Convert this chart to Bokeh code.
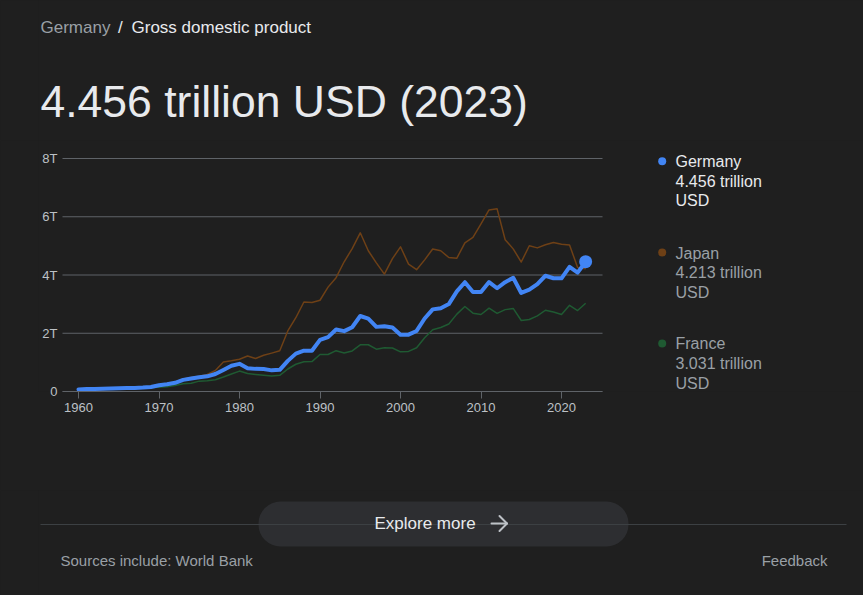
from bokeh.plotting import figure
from bokeh.layouts import column
from bokeh.models import Range1d, FixedTicker, CustomJSTickFormatter, BoxAnnotation, Label
from bokeh.core.properties import value
from bokeh.embed import file_html
from bokeh.resources import INLINE

# ---------------- data (trillion USD) ----------------
years = list(range(1960, 2024))
germany = [
    0.072, 0.083, 0.090, 0.096, 0.105, 0.114, 0.121, 0.124, 0.134, 0.156,
    0.215, 0.250, 0.300, 0.399, 0.445, 0.490, 0.520, 0.600, 0.741, 0.882,
    0.950, 0.800, 0.777, 0.770, 0.726, 0.743, 1.051, 1.301, 1.402, 1.399,
    1.772, 1.868, 2.131, 2.072, 2.206, 2.592, 2.503, 2.219, 2.243, 2.200,
    1.950, 1.951, 2.079, 2.506, 2.819, 2.861, 3.002, 3.440, 3.752, 3.418,
    3.417, 3.758, 3.545, 3.753, 3.905, 3.383, 3.496, 3.690, 3.974, 3.889,
    3.887, 4.278, 4.082, 4.456,
]
japan = [
    0.044, 0.054, 0.060, 0.069, 0.082, 0.091, 0.106, 0.124, 0.147, 0.172,
    0.213, 0.241, 0.318, 0.432, 0.480, 0.522, 0.587, 0.722, 1.014, 1.055,
    1.105, 1.218, 1.135, 1.243, 1.318, 1.399, 2.079, 2.533, 3.072, 3.054,
    3.133, 3.584, 3.909, 4.454, 4.907, 5.449, 4.833, 4.415, 4.032, 4.562,
    4.968, 4.375, 4.183, 4.520, 4.894, 4.831, 4.601, 4.579, 5.106, 5.289,
    5.759, 6.233, 6.272, 5.212, 4.897, 4.445, 5.004, 4.931, 5.041, 5.118,
    5.055, 5.034, 4.256, 4.213,
]
france = [
    0.062, 0.068, 0.076, 0.085, 0.094, 0.102, 0.111, 0.120, 0.130, 0.141,
    0.149, 0.167, 0.206, 0.265, 0.281, 0.356, 0.369, 0.405, 0.496, 0.602,
    0.701, 0.616, 0.586, 0.561, 0.531, 0.554, 0.772, 0.935, 1.019, 1.026,
    1.269, 1.269, 1.401, 1.322, 1.393, 1.601, 1.605, 1.452, 1.503, 1.493,
    1.362, 1.377, 1.501, 1.844, 2.119, 2.196, 2.319, 2.657, 2.918, 2.690,
    2.643, 2.862, 2.683, 2.811, 2.852, 2.439, 2.472, 2.595, 2.790, 2.728,
    2.647, 2.960, 2.780, 3.031,
]
countries = ["Germany", "Japan", "France"]
latest_text = ["4.456 trillion", "4.213 trillion", "3.031 trillion"]
x_ticks = [1960, 1970, 1980, 1990, 2000, 2010, 2020]
y_ticks = [0, 2, 4, 6, 8]

# ---------------- styling ----------------
BG = "#1f1f1f"
FONT = "Liberation Sans"
BLUE = "#4285f4"
BROWN = "#6e4016"
GREEN = "#1f5a32"
GRID = "#5f6368"
TXT = "#e8eaed"
GREY = "#9aa0a6"
TICK_TXT = "#bdc1c6"
BGSTYLE = {"background-color": BG}

W = 863
FL = 38              # common frame left edge (page px) for all three figures
TOP_H = 140          # header block: page y 0..140
MID_H = 350          # chart + legend: page y 140..490
BOT_H = 595 - TOP_H - MID_H  # footer: page y 490..595


def pixel_fig(h):
    f = figure(width=W, height=h, output_backend="svg", toolbar_location=None,
               x_range=Range1d(FL, W), y_range=Range1d(0, h),
               x_axis_location=None, y_axis_location=None,
               min_border=0, min_border_left=FL, styles=BGSTYLE)
    f.background_fill_color = BG
    f.border_fill_color = BG
    f.outline_line_color = None
    f.grid.visible = False
    return f


def put_text(f, h, y0, x, y, text, size, color, align="left", font=FONT):
    # x, y in page pixels (y = vertical middle of the text); y0 = page y of figure top
    f.text(x=[x], y=[h - (y - y0)], text=[text], text_font=value(font),
           text_font_size=value(size), text_color=color,
           text_align=align, text_baseline="middle")


# ---------------- header ----------------
head = pixel_fig(TOP_H)
put_text(head, TOP_H, 0, 40, 27, "Germany", "17px", GREY)
put_text(head, TOP_H, 0, 117.5, 27, "/", "17px", TXT)
put_text(head, TOP_H, 0, 131, 27, "Gross domestic product", "17px", TXT)
put_text(head, TOP_H, 0, 40, 100.5, "4.456 trillion USD (2023)", "44.5px", TXT)

# ---------------- chart (legend lives inside the wide frame) ----------------
T, B = TOP_H, 391                 # frame top / bottom in page pixels
PL, PR = 62, 602                  # visible plot area left / right in page pixels
X_PER_YEAR = (561 - 78) / 60      # pixels per year
Y_PER_T = (391 - 158) / 8         # pixels per trillion
x_start = 1960 - (78 - FL) / X_PER_YEAR
x_end = 1960 + (W - 78) / X_PER_YEAR
x_plot_start = 1960 - (78 - PL) / X_PER_YEAR
x_plot_end = 1960 + (PR - 78) / X_PER_YEAR
y_end = 8 + (158 - T) / Y_PER_T

p = figure(width=W, height=MID_H, output_backend="svg", toolbar_location=None,
           x_range=Range1d(x_start, x_end), y_range=Range1d(0, y_end),
           min_border_left=FL, min_border_right=0,
           min_border_top=0, min_border_bottom=TOP_H + MID_H - B, styles=BGSTYLE)
p.background_fill_color = BG
p.border_fill_color = BG
p.outline_line_color = None
p.grid.visible = False

# horizontal grid lines, limited to the plot area
p.segment(x0=[x_plot_start] * len(y_ticks), y0=y_ticks,
          x1=[x_plot_end] * len(y_ticks), y1=y_ticks,
          line_color=GRID, line_width=1)

p.xaxis.ticker = FixedTicker(ticks=x_ticks)
p.xaxis.bounds = (x_plot_start, x_plot_end)
p.xaxis.axis_line_color = GRID
p.xaxis.major_tick_line_color = GRID
p.xaxis.major_tick_in = 0
p.xaxis.major_tick_out = 7
p.xaxis.minor_tick_line_color = None
p.xaxis.major_label_standoff = 4
p.xaxis.major_label_text_color = TICK_TXT
p.xaxis.major_label_text_font = FONT
p.xaxis.major_label_text_font_size = "13px"

p.yaxis.ticker = FixedTicker(ticks=y_ticks)
p.yaxis.formatter = CustomJSTickFormatter(code="return tick == 0 ? '0' : tick + 'T';")
p.yaxis.axis_line_color = None
p.yaxis.major_tick_line_color = None
p.yaxis.minor_tick_line_color = None
p.yaxis.major_tick_in = 0
p.yaxis.major_tick_out = 0
p.yaxis.major_label_standoff = -19   # labels end at page x = 57
p.yaxis.major_label_text_color = TICK_TXT
p.yaxis.major_label_text_font = FONT
p.yaxis.major_label_text_font_size = "13px"

p.line(years, japan, line_color=BROWN, line_width=1.5, line_join="round")
p.line(years, france, line_color=GREEN, line_width=1.5, line_join="round")
p.line(years, germany, line_color=BLUE, line_width=4, line_join="round", line_cap="round")
p.scatter([years[-1]], [germany[-1]], size=13, fill_color=BLUE, line_color=None)


def sx(px):
    return px - FL


def sy(py):
    return B - py


legend_colors = [BLUE, BROWN, GREEN]
legend_text_colors = [TXT, GREY, GREY]
legend_dot_y = [160.7, 252, 343]
legend_text_y = [[161, 180.5, 200], [252.5, 272, 291.5], [342.5, 362.5, 382.5]]
for name, val, c, tc, yd, ys in zip(countries, latest_text, legend_colors,
                                    legend_text_colors, legend_dot_y, legend_text_y):
    p.add_layout(BoxAnnotation(left=sx(657.7), right=sx(665.7), top=sy(yd - 4), bottom=sy(yd + 4),
                               left_units="screen", right_units="screen",
                               top_units="screen", bottom_units="screen",
                               fill_color=c, fill_alpha=1, line_color=None, border_radius=4))
    for txt, yy in zip([name, val, "USD"], ys):
        p.add_layout(Label(x=sx(675), y=sy(yy), x_units="screen", y_units="screen", text=txt,
                           text_font=FONT, text_font_size="16px", text_color=tc,
                           text_align="left", text_baseline="middle"))

# ---------------- footer ----------------
Y0 = TOP_H + MID_H


def fy(py):
    return BOT_H - (py - Y0)


foot = pixel_fig(BOT_H)
foot.segment(x0=[40], y0=[fy(524)], x1=[846], y1=[fy(524)],
             line_color="#3c4043", line_width=1)
foot.add_layout(BoxAnnotation(left=258, right=628, top=fy(501), bottom=fy(546),
                              fill_color="#2d2e31", fill_alpha=1, line_color=None,
                              border_radius=22, level="underlay"))
put_text(foot, BOT_H, Y0, 374, 523, "Explore more", "17px", TXT)
# arrow icon
foot.segment(x0=[491, 499, 499], y0=[fy(523), fy(515.5), fy(530.5)],
             x1=[506, 506.5, 506.5], y1=[fy(523), fy(523), fy(523)],
             line_color="#bdc1c6", line_width=2, line_cap="round")
put_text(foot, BOT_H, Y0, 60, 559.5, "Sources include: World Bank", "15px", GREY)
put_text(foot, BOT_H, Y0, 827, 559.5, "Feedback", "15px", GREY, align="right")

layout = column(head, p, foot, styles=BGSTYLE)
open("out.html", "w").write(file_html(layout, INLINE))
